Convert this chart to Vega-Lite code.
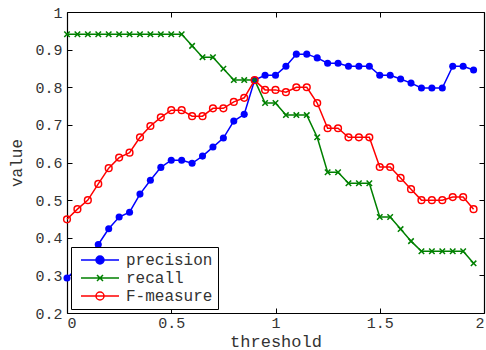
{
  "$schema": "https://vega.github.io/schema/vega-lite/v6.json",
  "width": 417,
  "height": 301,
  "autosize": {"type": "none"},
  "padding": {"left": 67, "top": 12, "right": 2, "bottom": 37},
  "background": "white",
  "config": {
    "view": {"stroke": null},
    "font": "Courier New, Liberation Mono, monospace",
    "axis": {
      "grid": false,
      "domainColor": "black",
      "domainWidth": 1.2,
      "tickColor": "black",
      "tickWidth": 1,
      "tickSize": -5,
      "labelFont": "Courier New, Liberation Mono, monospace",
      "labelFontSize": 15,
      "labelColor": "#333333",
      "labelFontWeight": "normal",
      "titleFont": "Courier New, Liberation Mono, monospace",
      "titleFontSize": 17,
      "titleFontWeight": "normal",
      "titleColor": "#333333",
      "format": "~g"
    },
    "legend": {
      "labelFont": "Courier New, Liberation Mono, monospace",
      "labelFontSize": 16,
      "labelColor": "#333333",
      "orient": "bottom-left",
      "offset": 4,
      "padding": 5,
      "rowPadding": 2,
      "labelOffset": 34,
      "strokeColor": "black",
      "fillColor": "white",
      "symbolSize": 100,
      "symbolStrokeWidth": 1.5
    }
  },
  "datasets": {
    "d": [
      {"t": 0, "series": "precision", "v": 0.293}, {"t": 0.05, "series": "precision", "v": 0.32}, {"t": 0.1, "series": "precision", "v": 0.35}, {"t": 0.15, "series": "precision", "v": 0.382}, {"t": 0.2, "series": "precision", "v": 0.424}, {"t": 0.25, "series": "precision", "v": 0.455}, {"t": 0.3, "series": "precision", "v": 0.468}, {"t": 0.35, "series": "precision", "v": 0.516}, {"t": 0.4, "series": "precision", "v": 0.553}, {"t": 0.45, "series": "precision", "v": 0.587}, {"t": 0.5, "series": "precision", "v": 0.606}, {"t": 0.55, "series": "precision", "v": 0.606}, {"t": 0.6, "series": "precision", "v": 0.598}, {"t": 0.65, "series": "precision", "v": 0.617}, {"t": 0.7, "series": "precision", "v": 0.641}, {"t": 0.75, "series": "precision", "v": 0.665}, {"t": 0.8, "series": "precision", "v": 0.71}, {"t": 0.85, "series": "precision", "v": 0.728}, {"t": 0.9, "series": "precision", "v": 0.819}, {"t": 0.95, "series": "precision", "v": 0.832}, {"t": 1.0, "series": "precision", "v": 0.832}, {"t": 1.05, "series": "precision", "v": 0.856}, {"t": 1.1, "series": "precision", "v": 0.888}, {"t": 1.15, "series": "precision", "v": 0.888}, {"t": 1.2, "series": "precision", "v": 0.878}, {"t": 1.25, "series": "precision", "v": 0.864}, {"t": 1.3, "series": "precision", "v": 0.864}, {"t": 1.35, "series": "precision", "v": 0.856}, {"t": 1.4, "series": "precision", "v": 0.856}, {"t": 1.45, "series": "precision", "v": 0.856}, {"t": 1.5, "series": "precision", "v": 0.832}, {"t": 1.55, "series": "precision", "v": 0.832}, {"t": 1.6, "series": "precision", "v": 0.822}, {"t": 1.65, "series": "precision", "v": 0.811}, {"t": 1.7, "series": "precision", "v": 0.798}, {"t": 1.75, "series": "precision", "v": 0.798}, {"t": 1.8, "series": "precision", "v": 0.798}, {"t": 1.85, "series": "precision", "v": 0.856}, {"t": 1.9, "series": "precision", "v": 0.856}, {"t": 1.95, "series": "precision", "v": 0.846},
      {"t": 0, "series": "recall", "v": 0.941}, {"t": 0.05, "series": "recall", "v": 0.941}, {"t": 0.1, "series": "recall", "v": 0.941}, {"t": 0.15, "series": "recall", "v": 0.941}, {"t": 0.2, "series": "recall", "v": 0.941}, {"t": 0.25, "series": "recall", "v": 0.941}, {"t": 0.3, "series": "recall", "v": 0.941}, {"t": 0.35, "series": "recall", "v": 0.941}, {"t": 0.4, "series": "recall", "v": 0.941}, {"t": 0.45, "series": "recall", "v": 0.941}, {"t": 0.5, "series": "recall", "v": 0.941}, {"t": 0.55, "series": "recall", "v": 0.941}, {"t": 0.6, "series": "recall", "v": 0.91}, {"t": 0.65, "series": "recall", "v": 0.88}, {"t": 0.7, "series": "recall", "v": 0.88}, {"t": 0.75, "series": "recall", "v": 0.849}, {"t": 0.8, "series": "recall", "v": 0.819}, {"t": 0.85, "series": "recall", "v": 0.819}, {"t": 0.9, "series": "recall", "v": 0.819}, {"t": 0.95, "series": "recall", "v": 0.758}, {"t": 1.0, "series": "recall", "v": 0.758}, {"t": 1.05, "series": "recall", "v": 0.726}, {"t": 1.1, "series": "recall", "v": 0.726}, {"t": 1.15, "series": "recall", "v": 0.726}, {"t": 1.2, "series": "recall", "v": 0.667}, {"t": 1.25, "series": "recall", "v": 0.574}, {"t": 1.3, "series": "recall", "v": 0.574}, {"t": 1.35, "series": "recall", "v": 0.545}, {"t": 1.4, "series": "recall", "v": 0.545}, {"t": 1.45, "series": "recall", "v": 0.545}, {"t": 1.5, "series": "recall", "v": 0.455}, {"t": 1.55, "series": "recall", "v": 0.455}, {"t": 1.6, "series": "recall", "v": 0.423}, {"t": 1.65, "series": "recall", "v": 0.391}, {"t": 1.7, "series": "recall", "v": 0.364}, {"t": 1.75, "series": "recall", "v": 0.364}, {"t": 1.8, "series": "recall", "v": 0.364}, {"t": 1.85, "series": "recall", "v": 0.364}, {"t": 1.9, "series": "recall", "v": 0.364}, {"t": 1.95, "series": "recall", "v": 0.332},
      {"t": 0, "series": "F-measure", "v": 0.449}, {"t": 0.05, "series": "F-measure", "v": 0.476}, {"t": 0.1, "series": "F-measure", "v": 0.5}, {"t": 0.15, "series": "F-measure", "v": 0.543}, {"t": 0.2, "series": "F-measure", "v": 0.585}, {"t": 0.25, "series": "F-measure", "v": 0.613}, {"t": 0.3, "series": "F-measure", "v": 0.626}, {"t": 0.35, "series": "F-measure", "v": 0.667}, {"t": 0.4, "series": "F-measure", "v": 0.697}, {"t": 0.45, "series": "F-measure", "v": 0.72}, {"t": 0.5, "series": "F-measure", "v": 0.739}, {"t": 0.55, "series": "F-measure", "v": 0.739}, {"t": 0.6, "series": "F-measure", "v": 0.723}, {"t": 0.65, "series": "F-measure", "v": 0.723}, {"t": 0.7, "series": "F-measure", "v": 0.744}, {"t": 0.75, "series": "F-measure", "v": 0.744}, {"t": 0.8, "series": "F-measure", "v": 0.761}, {"t": 0.85, "series": "F-measure", "v": 0.772}, {"t": 0.9, "series": "F-measure", "v": 0.819}, {"t": 0.95, "series": "F-measure", "v": 0.793}, {"t": 1.0, "series": "F-measure", "v": 0.793}, {"t": 1.05, "series": "F-measure", "v": 0.787}, {"t": 1.1, "series": "F-measure", "v": 0.8}, {"t": 1.15, "series": "F-measure", "v": 0.8}, {"t": 1.2, "series": "F-measure", "v": 0.758}, {"t": 1.25, "series": "F-measure", "v": 0.691}, {"t": 1.3, "series": "F-measure", "v": 0.691}, {"t": 1.35, "series": "F-measure", "v": 0.667}, {"t": 1.4, "series": "F-measure", "v": 0.667}, {"t": 1.45, "series": "F-measure", "v": 0.667}, {"t": 1.5, "series": "F-measure", "v": 0.588}, {"t": 1.55, "series": "F-measure", "v": 0.588}, {"t": 1.6, "series": "F-measure", "v": 0.559}, {"t": 1.65, "series": "F-measure", "v": 0.529}, {"t": 1.7, "series": "F-measure", "v": 0.5}, {"t": 1.75, "series": "F-measure", "v": 0.5}, {"t": 1.8, "series": "F-measure", "v": 0.5}, {"t": 1.85, "series": "F-measure", "v": 0.508}, {"t": 1.9, "series": "F-measure", "v": 0.508}, {"t": 1.95, "series": "F-measure", "v": 0.476}
    ]
  },
  "data": {"name": "d"},
  "layer": [
    {
      "mark": {"type": "line", "strokeWidth": 1.5, "opacity": 1},
      "encoding": {
        "x": {
          "field": "t", "type": "quantitative",
          "scale": {"domain": [0, 2], "nice": false, "zero": false},
          "axis": {"orient": "bottom", "values": [0, 0.5, 1, 1.5, 2], "title": "threshold", "labelPadding": 7, "titlePadding": 3}
        },
        "y": {
          "field": "v", "type": "quantitative",
          "scale": {"domain": [0.2, 1], "nice": false, "zero": false},
          "axis": {"orient": "left", "values": [0.2, 0.3, 0.4, 0.5, 0.6, 0.7, 0.8, 0.9, 1], "title": "value", "titleFontSize": 16, "labelPadding": 10, "titlePadding": 10}
        },
        "stroke": {
          "field": "series", "type": "nominal",
          "scale": {"domain": ["precision", "recall", "F-measure"], "range": ["#0000ff", "#008000", "#ff0000"]},
          "legend": {"title": null}
        }
      }
    },
    {
      "transform": [{"filter": "datum.series === 'precision'"}],
      "mark": {"type": "point", "shape": "circle", "filled": true, "color": "#0000ff", "size": 50, "opacity": 1},
      "encoding": {
        "x": {
          "field": "t", "type": "quantitative",
          "axis": {"orient": "top", "values": [0, 0.5, 1, 1.5, 2], "labels": false, "title": null}
        },
        "y": {
          "field": "v", "type": "quantitative",
          "axis": {"orient": "right", "values": [0.2, 0.3, 0.4, 0.5, 0.6, 0.7, 0.8, 0.9, 1], "labels": false, "title": null}
        }
      }
    },
    {
      "transform": [{"filter": "datum.series === 'recall'"}],
      "mark": {"type": "point", "shape": "M-1,-1L1,1M-1,1L1,-1", "filled": false, "color": "#008000", "size": 30, "strokeWidth": 1.5, "opacity": 1},
      "encoding": {
        "x": {"field": "t", "type": "quantitative", "axis": null},
        "y": {"field": "v", "type": "quantitative", "axis": null}
      }
    },
    {
      "transform": [{"filter": "datum.series === 'F-measure'"}],
      "mark": {"type": "point", "shape": "circle", "filled": false, "color": "#ff0000", "size": 45, "strokeWidth": 1.5, "opacity": 1},
      "encoding": {
        "x": {"field": "t", "type": "quantitative", "axis": null},
        "y": {"field": "v", "type": "quantitative", "axis": null}
      }
    },
    {
      "transform": [{"filter": "datum.t < 0"}],
      "mark": {"type": "point", "strokeWidth": 1.5, "opacity": 1, "size": 100},
      "encoding": {
        "x": {"field": "t", "type": "quantitative", "axis": null},
        "y": {"field": "v", "type": "quantitative", "axis": null},
        "stroke": {"field": "series", "type": "nominal", "legend": {"title": null}},
        "fill": {
          "field": "series", "type": "nominal",
          "scale": {"domain": ["precision", "recall", "F-measure"], "range": ["#0000ff", "transparent", "transparent"]},
          "legend": {"title": null}
        },
        "shape": {
          "field": "series", "type": "nominal",
          "scale": {"domain": ["precision", "recall", "F-measure"], "range": ["M-0.6,0H7M4,0A0.8,0.8 0 1,1 2.4,0A0.8,0.8 0 1,1 4,0Z", "M-0.6,0H7M2.6,-0.6L3.8,0.6M2.6,0.6L3.8,-0.6", "M-0.6,0H7M4,0A0.8,0.8 0 1,1 2.4,0A0.8,0.8 0 1,1 4,0Z"]},
          "legend": {"title": null}
        }
      }
    }
  ],
  "resolve": {"axis": {"x": "independent", "y": "independent"}}
}
